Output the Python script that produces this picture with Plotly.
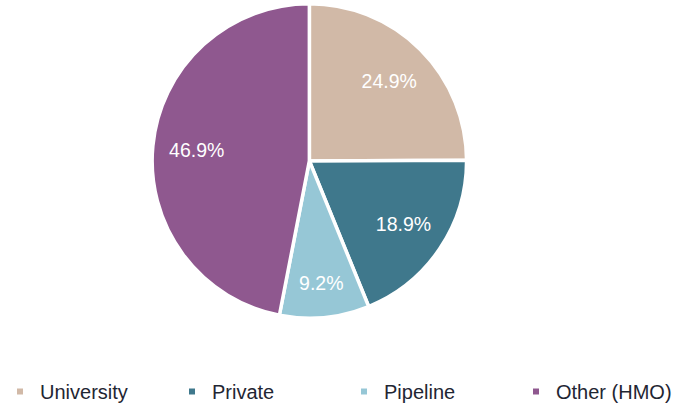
import plotly.graph_objects as go

labels = ["University", "Private", "Pipeline", "Other (HMO)"]
shares = [24.9, 18.9, 9.2, 46.9]
colors = ["#D1B9A7", "#3F788C", "#96C7D6", "#8F588F"]

FONT = "Liberation Sans, Arial, sans-serif"
dom = dict(x=[0.219, 0.679], y=[0.226, 0.991])

fig = go.Figure()
# filled slices
fig.add_trace(go.Pie(
    labels=labels, values=shares,
    textinfo="none",
    marker=dict(colors=colors, line=dict(color="white", width=3.5)),
    sort=False, direction="clockwise", rotation=0,
    showlegend=False, hoverinfo="label+percent",
    domain=dom,
))
# transparent ring carrying the percentage labels further out in each slice
fig.add_trace(go.Pie(
    labels=labels, values=shares,
    text=[f"{v:.1f}%" for v in shares],
    textinfo="text", textposition="inside",
    insidetextorientation="horizontal",
    textfont=dict(family=FONT, size=19.5, color="white"),
    hole=0.44,
    marker=dict(colors=["rgba(0,0,0,0)"] * 4, line=dict(width=0)),
    sort=False, direction="clockwise", rotation=0,
    showlegend=False, hoverinfo="skip",
    domain=dom,
))

# square legend markers
for name, c in zip(labels, colors):
    fig.add_trace(go.Scatter(
        x=[None], y=[None], mode="markers", name=name,
        marker=dict(symbol="square", size=6, color=c),
    ))

fig.update_layout(
    width=689, height=411,
    margin=dict(l=0, r=0, t=0, b=0),
    paper_bgcolor="white", plot_bgcolor="white",
    xaxis=dict(visible=False), yaxis=dict(visible=False),
    legend=dict(
        orientation="h", x=0, y=0, xanchor="left", yanchor="bottom",
        font=dict(family=FONT, size=20, color="#1F2633"),
        entrywidth=127, entrywidthmode="pixels", itemwidth=30,
        bgcolor="rgba(0,0,0,0)",
    ),
)

fig.write_html("out.html")
